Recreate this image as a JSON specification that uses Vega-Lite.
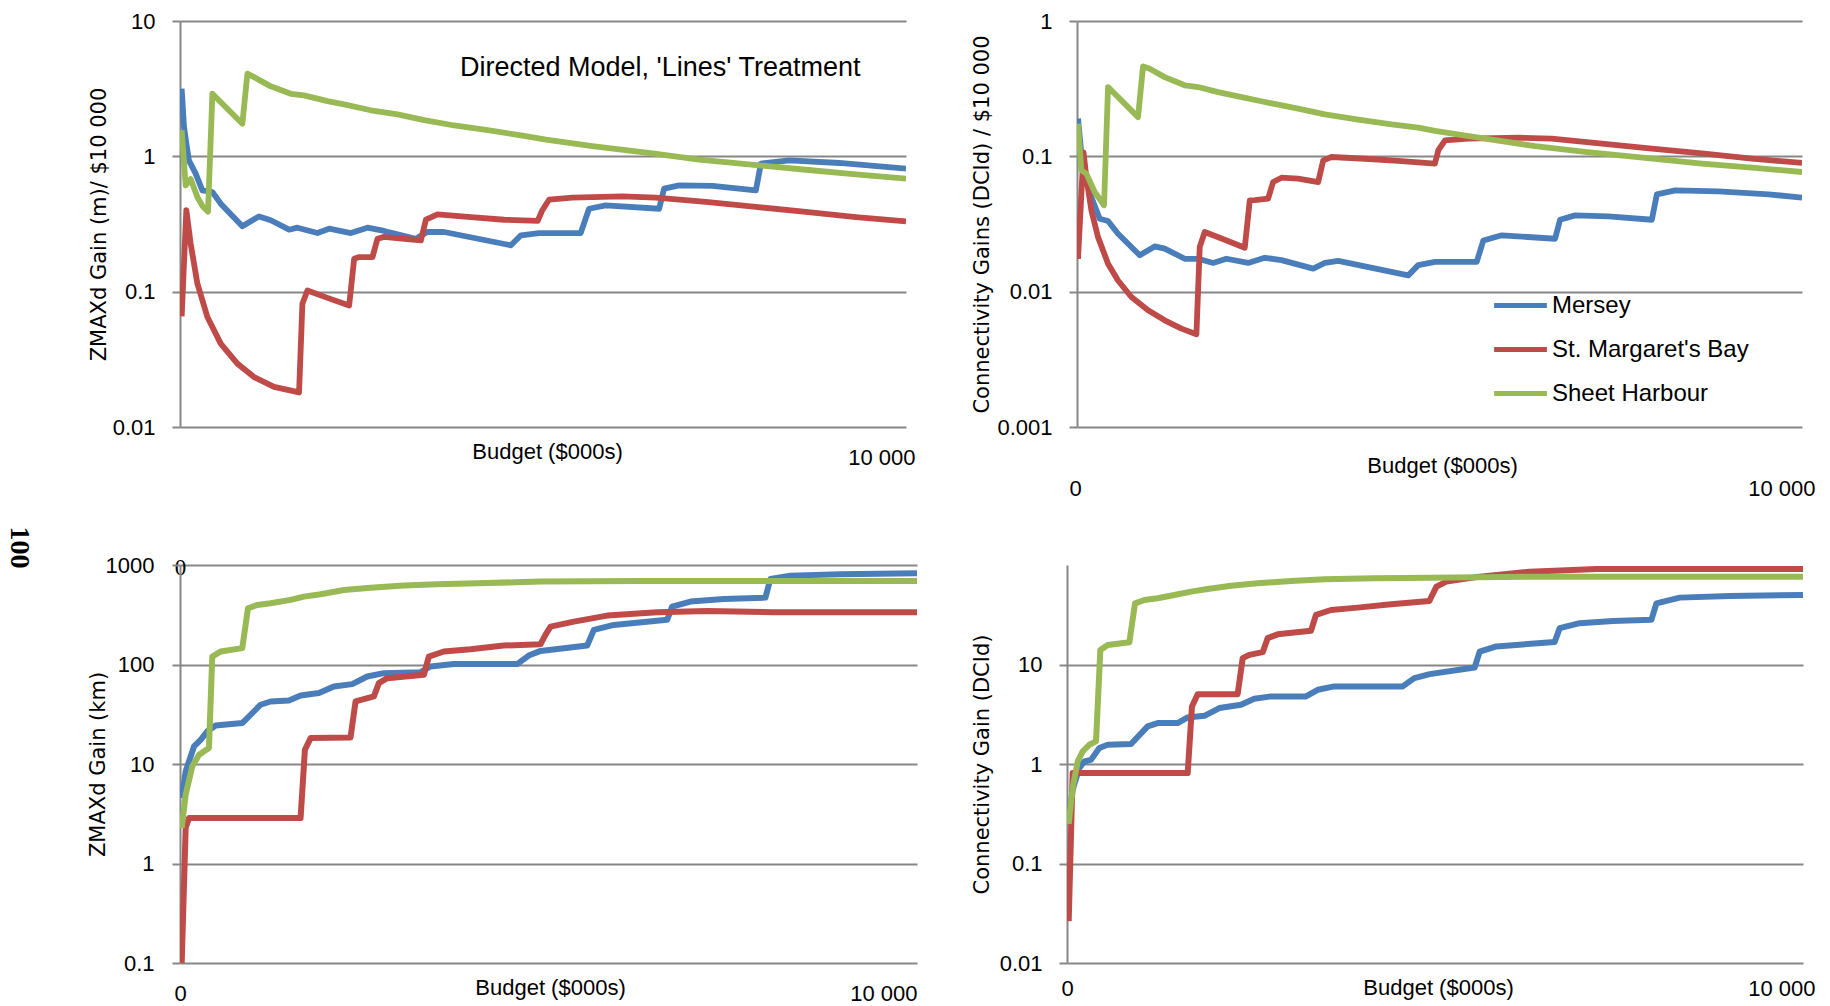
{
  "$schema": "https://vega.github.io/schema/vega-lite/v6.json",
  "autosize": {"type": "none"},
  "padding": {"left": 180, "top": 21, "right": 1650, "bottom": 985},
  "background": "white",
  "bounds": "flush",
  "spacing": 544,
  "resolve": {"scale": {"x": "independent", "y": "independent"}, "legend": {"color": "independent"}},
  "config": {
    "view": {"stroke": null},
    "axis": {
      "gridColor": "#878787", "gridWidth": 2, "gridOpacity": 1,
      "domainColor": "#878787", "domainWidth": 2,
      "tickColor": "#878787", "tickWidth": 2,
      "labelColor": "#000000", "titleColor": "#000000",
      "labelFont": "Liberation Sans", "labelFontSize": 22,
      "titleFont": "Liberation Sans", "titleFontWeight": "normal",
      "labelFlush": false, "labelOverlap": false
    }
  },
  "datasets": {
    "tl": [
      {"series":"Mersey","budget":23,"value":3.16},{"series":"Mersey","budget":55,"value":1.65},{"series":"Mersey","budget":101,"value":1.11},{"series":"Mersey","budget":124,"value":0.93},{"series":"Mersey","budget":216,"value":0.745},{"series":"Mersey","budget":308,"value":0.56},{"series":"Mersey","budget":446,"value":0.545},{"series":"Mersey","budget":561,"value":0.447},{"series":"Mersey","budget":859,"value":0.304},{"series":"Mersey","budget":1089,"value":0.36},{"series":"Mersey","budget":1250,"value":0.337},{"series":"Mersey","budget":1503,"value":0.287},{"series":"Mersey","budget":1617,"value":0.297},{"series":"Mersey","budget":1893,"value":0.271},{"series":"Mersey","budget":2054,"value":0.292},{"series":"Mersey","budget":2353,"value":0.271},{"series":"Mersey","budget":2582,"value":0.297},{"series":"Mersey","budget":2812,"value":0.281},{"series":"Mersey","budget":3249,"value":0.246},{"series":"Mersey","budget":3410,"value":0.277},{"series":"Mersey","budget":3639,"value":0.276},{"series":"Mersey","budget":4558,"value":0.22},{"series":"Mersey","budget":4696,"value":0.261},{"series":"Mersey","budget":4945,"value":0.271},{"series":"Mersey","budget":5519,"value":0.271},{"series":"Mersey","budget":5634,"value":0.41},{"series":"Mersey","budget":5864,"value":0.434},{"series":"Mersey","budget":6599,"value":0.41},{"series":"Mersey","budget":6668,"value":0.577},{"series":"Mersey","budget":6875,"value":0.61},{"series":"Mersey","budget":7335,"value":0.604},{"series":"Mersey","budget":7932,"value":0.56},{"series":"Mersey","budget":8001,"value":0.883},{"series":"Mersey","budget":8391,"value":0.934},{"series":"Mersey","budget":9081,"value":0.893},{"series":"Mersey","budget":10000,"value":0.811},
      {"series":"St. Margaret's Bay","budget":23,"value":0.0658},{"series":"St. Margaret's Bay","budget":87,"value":0.4},{"series":"St. Margaret's Bay","budget":147,"value":0.226},{"series":"St. Margaret's Bay","budget":239,"value":0.115},{"series":"St. Margaret's Bay","budget":377,"value":0.065},{"series":"St. Margaret's Bay","budget":561,"value":0.0413},{"series":"St. Margaret's Bay","budget":790,"value":0.0294},{"series":"St. Margaret's Bay","budget":1020,"value":0.0234},{"series":"St. Margaret's Bay","budget":1296,"value":0.0198},{"series":"St. Margaret's Bay","budget":1640,"value":0.018},{"series":"St. Margaret's Bay","budget":1686,"value":0.0815},{"series":"St. Margaret's Bay","budget":1755,"value":0.102},{"series":"St. Margaret's Bay","budget":2031,"value":0.09},{"series":"St. Margaret's Bay","budget":2330,"value":0.079},{"series":"St. Margaret's Bay","budget":2399,"value":0.175},{"series":"St. Margaret's Bay","budget":2468,"value":0.18},{"series":"St. Margaret's Bay","budget":2651,"value":0.18},{"series":"St. Margaret's Bay","budget":2720,"value":0.246},{"series":"St. Margaret's Bay","budget":2812,"value":0.254},{"series":"St. Margaret's Bay","budget":3088,"value":0.246},{"series":"St. Margaret's Bay","budget":3318,"value":0.239},{"series":"St. Margaret's Bay","budget":3387,"value":0.34},{"series":"St. Margaret's Bay","budget":3547,"value":0.373},{"series":"St. Margaret's Bay","budget":4007,"value":0.356},{"series":"St. Margaret's Bay","budget":4466,"value":0.34},{"series":"St. Margaret's Bay","budget":4926,"value":0.333},{"series":"St. Margaret's Bay","budget":4991,"value":0.4},{"series":"St. Margaret's Bay","budget":5083,"value":0.478},{"series":"St. Margaret's Bay","budget":5405,"value":0.495},{"series":"St. Margaret's Bay","budget":6094,"value":0.506},{"series":"St. Margaret's Bay","budget":6553,"value":0.495},{"series":"St. Margaret's Bay","budget":7243,"value":0.46},{"series":"St. Margaret's Bay","budget":7932,"value":0.423},{"series":"St. Margaret's Bay","budget":8621,"value":0.388},{"series":"St. Margaret's Bay","budget":9310,"value":0.356},{"series":"St. Margaret's Bay","budget":10000,"value":0.331},
      {"series":"Sheet Harbour","budget":23,"value":1.56},{"series":"Sheet Harbour","budget":78,"value":0.61},{"series":"Sheet Harbour","budget":147,"value":0.68},{"series":"Sheet Harbour","budget":239,"value":0.5},{"series":"Sheet Harbour","budget":308,"value":0.43},{"series":"Sheet Harbour","budget":386,"value":0.39},{"series":"Sheet Harbour","budget":446,"value":2.9},{"series":"Sheet Harbour","budget":859,"value":1.74},{"series":"Sheet Harbour","budget":928,"value":4.08},{"series":"Sheet Harbour","budget":1020,"value":3.85},{"series":"Sheet Harbour","budget":1250,"value":3.29},{"series":"Sheet Harbour","budget":1526,"value":2.9},{"series":"Sheet Harbour","budget":1709,"value":2.82},{"series":"Sheet Harbour","budget":2031,"value":2.56},{"series":"Sheet Harbour","budget":2261,"value":2.42},{"series":"Sheet Harbour","budget":2628,"value":2.19},{"series":"Sheet Harbour","budget":2996,"value":2.04},{"series":"Sheet Harbour","budget":3364,"value":1.85},{"series":"Sheet Harbour","budget":3777,"value":1.69},{"series":"Sheet Harbour","budget":4237,"value":1.56},{"series":"Sheet Harbour","budget":4696,"value":1.43},{"series":"Sheet Harbour","budget":5041,"value":1.33},{"series":"Sheet Harbour","budget":5680,"value":1.19},{"series":"Sheet Harbour","budget":6507,"value":1.05},{"series":"Sheet Harbour","budget":7151,"value":0.945},{"series":"Sheet Harbour","budget":7978,"value":0.857},{"series":"Sheet Harbour","budget":8621,"value":0.796},{"series":"Sheet Harbour","budget":9310,"value":0.736},{"series":"Sheet Harbour","budget":10000,"value":0.684}
    ],
    "tr": [
      {"series":"Mersey","budget":14,"value":0.19},{"series":"Mersey","budget":60,"value":0.105},{"series":"Mersey","budget":106,"value":0.0704},{"series":"Mersey","budget":198,"value":0.0501},{"series":"Mersey","budget":313,"value":0.0346},{"series":"Mersey","budget":428,"value":0.0333},{"series":"Mersey","budget":566,"value":0.0268},{"series":"Mersey","budget":865,"value":0.0186},{"series":"Mersey","budget":1072,"value":0.0216},{"series":"Mersey","budget":1210,"value":0.0208},{"series":"Mersey","budget":1486,"value":0.0175},{"series":"Mersey","budget":1670,"value":0.0175},{"series":"Mersey","budget":1877,"value":0.0163},{"series":"Mersey","budget":2061,"value":0.0175},{"series":"Mersey","budget":2360,"value":0.0163},{"series":"Mersey","budget":2590,"value":0.0178},{"series":"Mersey","budget":2820,"value":0.0171},{"series":"Mersey","budget":3258,"value":0.0148},{"series":"Mersey","budget":3419,"value":0.0163},{"series":"Mersey","budget":3603,"value":0.0169},{"series":"Mersey","budget":4569,"value":0.0132},{"series":"Mersey","budget":4707,"value":0.0157},{"series":"Mersey","budget":4938,"value":0.0166},{"series":"Mersey","budget":5513,"value":0.0166},{"series":"Mersey","budget":5605,"value":0.0239},{"series":"Mersey","budget":5858,"value":0.0261},{"series":"Mersey","budget":6594,"value":0.0246},{"series":"Mersey","budget":6663,"value":0.034},{"series":"Mersey","budget":6870,"value":0.0366},{"series":"Mersey","budget":7331,"value":0.036},{"series":"Mersey","budget":7929,"value":0.034},{"series":"Mersey","budget":7998,"value":0.0524},{"series":"Mersey","budget":8251,"value":0.0561},{"series":"Mersey","budget":8849,"value":0.0551},{"series":"Mersey","budget":9539,"value":0.0524},{"series":"Mersey","budget":10000,"value":0.0495},
      {"series":"St. Margaret's Bay","budget":14,"value":0.0175},{"series":"St. Margaret's Bay","budget":90,"value":0.107},{"series":"St. Margaret's Bay","budget":129,"value":0.07},{"series":"St. Margaret's Bay","budget":198,"value":0.04},{"series":"St. Margaret's Bay","budget":290,"value":0.0253},{"series":"St. Margaret's Bay","budget":428,"value":0.0161},{"series":"St. Margaret's Bay","budget":566,"value":0.0121},{"series":"St. Margaret's Bay","budget":750,"value":0.00914},{"series":"St. Margaret's Bay","budget":980,"value":0.00728},{"series":"St. Margaret's Bay","budget":1210,"value":0.00614},{"series":"St. Margaret's Bay","budget":1440,"value":0.00533},{"series":"St. Margaret's Bay","budget":1647,"value":0.00484},{"series":"St. Margaret's Bay","budget":1693,"value":0.0214},{"series":"St. Margaret's Bay","budget":1762,"value":0.0276},{"series":"St. Margaret's Bay","budget":2038,"value":0.0242},{"series":"St. Margaret's Bay","budget":2314,"value":0.0211},{"series":"St. Margaret's Bay","budget":2383,"value":0.0473},{"series":"St. Margaret's Bay","budget":2452,"value":0.0475},{"series":"St. Margaret's Bay","budget":2636,"value":0.0487},{"series":"St. Margaret's Bay","budget":2705,"value":0.0646},{"series":"St. Margaret's Bay","budget":2820,"value":0.0695},{"series":"St. Margaret's Bay","budget":3050,"value":0.0684},{"series":"St. Margaret's Bay","budget":3327,"value":0.0646},{"series":"St. Margaret's Bay","budget":3396,"value":0.0934},{"series":"St. Margaret's Bay","budget":3511,"value":0.0989},{"series":"St. Margaret's Bay","budget":3971,"value":0.096},{"series":"St. Margaret's Bay","budget":4431,"value":0.0924},{"series":"St. Margaret's Bay","budget":4937,"value":0.0883},{"series":"St. Margaret's Bay","budget":4984,"value":0.111},{"series":"St. Margaret's Bay","budget":5076,"value":0.131},{"series":"St. Margaret's Bay","budget":5398,"value":0.135},{"series":"St. Margaret's Bay","budget":6088,"value":0.1375},{"series":"St. Margaret's Bay","budget":6548,"value":0.135},{"series":"St. Margaret's Bay","budget":7239,"value":0.124},{"series":"St. Margaret's Bay","budget":7929,"value":0.114},{"series":"St. Margaret's Bay","budget":8619,"value":0.105},{"series":"St. Margaret's Bay","budget":9309,"value":0.096},{"series":"St. Margaret's Bay","budget":10000,"value":0.0893},
      {"series":"Sheet Harbour","budget":14,"value":0.174},{"series":"Sheet Harbour","budget":60,"value":0.0788},{"series":"Sheet Harbour","budget":129,"value":0.0745},{"series":"Sheet Harbour","budget":244,"value":0.0545},{"series":"Sheet Harbour","budget":373,"value":0.0435},{"series":"Sheet Harbour","budget":428,"value":0.325},{"series":"Sheet Harbour","budget":842,"value":0.195},{"series":"Sheet Harbour","budget":911,"value":0.462},{"series":"Sheet Harbour","budget":1003,"value":0.444},{"series":"Sheet Harbour","budget":1210,"value":0.385},{"series":"Sheet Harbour","budget":1486,"value":0.335},{"series":"Sheet Harbour","budget":1670,"value":0.325},{"series":"Sheet Harbour","budget":1946,"value":0.298},{"series":"Sheet Harbour","budget":2222,"value":0.277},{"series":"Sheet Harbour","budget":2590,"value":0.252},{"series":"Sheet Harbour","budget":3050,"value":0.225},{"series":"Sheet Harbour","budget":3419,"value":0.204},{"series":"Sheet Harbour","budget":3879,"value":0.187},{"series":"Sheet Harbour","budget":4339,"value":0.172},{"series":"Sheet Harbour","budget":4707,"value":0.163},{"series":"Sheet Harbour","budget":4938,"value":0.154},{"series":"Sheet Harbour","budget":5628,"value":0.135},{"series":"Sheet Harbour","budget":6318,"value":0.119},{"series":"Sheet Harbour","budget":7008,"value":0.108},{"series":"Sheet Harbour","budget":7699,"value":0.0989},{"series":"Sheet Harbour","budget":8619,"value":0.0883},{"series":"Sheet Harbour","budget":9309,"value":0.0825},{"series":"Sheet Harbour","budget":10000,"value":0.0766}
    ],
    "bl": [
      {"series":"Mersey","budget":23,"value":4.56},{"series":"Mersey","budget":77,"value":8.44},{"series":"Mersey","budget":190,"value":15},{"series":"Mersey","budget":280,"value":17.5},{"series":"Mersey","budget":371,"value":21.3},{"series":"Mersey","budget":484,"value":24.4},{"series":"Mersey","budget":845,"value":25.8},{"series":"Mersey","budget":1094,"value":39.4},{"series":"Mersey","budget":1229,"value":42.5},{"series":"Mersey","budget":1478,"value":43.5},{"series":"Mersey","budget":1636,"value":48.9},{"series":"Mersey","budget":1885,"value":51.6},{"series":"Mersey","budget":2088,"value":60.1},{"series":"Mersey","budget":2337,"value":63.5},{"series":"Mersey","budget":2540,"value":75.8},{"series":"Mersey","budget":2766,"value":81.9},{"series":"Mersey","budget":3263,"value":83.8},{"series":"Mersey","budget":3399,"value":95.5},{"series":"Mersey","budget":3715,"value":101},{"series":"Mersey","budget":4574,"value":101},{"series":"Mersey","budget":4732,"value":123},{"series":"Mersey","budget":4892,"value":137},{"series":"Mersey","budget":5525,"value":155},{"series":"Mersey","budget":5615,"value":223},{"series":"Mersey","budget":5886,"value":250},{"series":"Mersey","budget":6610,"value":281},{"series":"Mersey","budget":6677,"value":382},{"series":"Mersey","budget":6926,"value":429},{"series":"Mersey","budget":7378,"value":456},{"series":"Mersey","budget":7943,"value":470},{"series":"Mersey","budget":8011,"value":724},{"series":"Mersey","budget":8282,"value":782},{"series":"Mersey","budget":8960,"value":806},{"series":"Mersey","budget":10000,"value":825},
      {"series":"St. Margaret's Bay","budget":23,"value":0.1},{"series":"St. Margaret's Bay","budget":77,"value":2.28},{"series":"St. Margaret's Bay","budget":122,"value":2.87},{"series":"St. Margaret's Bay","budget":1636,"value":2.87},{"series":"St. Margaret's Bay","budget":1695,"value":13.9},{"series":"St. Margaret's Bay","budget":1772,"value":18.2},{"series":"St. Margaret's Bay","budget":2314,"value":18.5},{"series":"St. Margaret's Bay","budget":2382,"value":42.5},{"series":"St. Margaret's Bay","budget":2631,"value":47.8},{"series":"St. Margaret's Bay","budget":2698,"value":65},{"series":"St. Margaret's Bay","budget":2811,"value":72.9},{"series":"St. Margaret's Bay","budget":3309,"value":78.7},{"series":"St. Margaret's Bay","budget":3376,"value":120},{"series":"St. Margaret's Bay","budget":3580,"value":135},{"series":"St. Margaret's Bay","budget":3941,"value":142},{"series":"St. Margaret's Bay","budget":4393,"value":155},{"series":"St. Margaret's Bay","budget":4892,"value":160},{"series":"St. Margaret's Bay","budget":4960,"value":200},{"series":"St. Margaret's Bay","budget":5028,"value":240},{"series":"St. Margaret's Bay","budget":5344,"value":270},{"series":"St. Margaret's Bay","budget":5796,"value":310},{"series":"St. Margaret's Bay","budget":6474,"value":335},{"series":"St. Margaret's Bay","budget":7152,"value":345},{"series":"St. Margaret's Bay","budget":8056,"value":335},{"series":"St. Margaret's Bay","budget":10000,"value":335},
      {"series":"Sheet Harbour","budget":23,"value":2.28},{"series":"Sheet Harbour","budget":77,"value":4.92},{"series":"Sheet Harbour","budget":167,"value":9.48},{"series":"Sheet Harbour","budget":258,"value":12.4},{"series":"Sheet Harbour","budget":393,"value":14.5},{"series":"Sheet Harbour","budget":438,"value":120},{"series":"Sheet Harbour","budget":551,"value":135},{"series":"Sheet Harbour","budget":845,"value":146},{"series":"Sheet Harbour","budget":922,"value":367},{"series":"Sheet Harbour","budget":1049,"value":397},{"series":"Sheet Harbour","budget":1229,"value":412},{"series":"Sheet Harbour","budget":1501,"value":446},{"series":"Sheet Harbour","budget":1681,"value":481},{"series":"Sheet Harbour","budget":1907,"value":508},{"series":"Sheet Harbour","budget":2224,"value":561},{"series":"Sheet Harbour","budget":2585,"value":592},{"series":"Sheet Harbour","budget":3037,"value":621},{"series":"Sheet Harbour","budget":3489,"value":640},{"series":"Sheet Harbour","budget":4167,"value":660},{"series":"Sheet Harbour","budget":4892,"value":681},{"series":"Sheet Harbour","budget":6248,"value":691},{"series":"Sheet Harbour","budget":8056,"value":692},{"series":"Sheet Harbour","budget":10000,"value":692}
    ],
    "br": [
      {"series":"Mersey","budget":23,"value":0.287},{"series":"Mersey","budget":77,"value":0.552},{"series":"Mersey","budget":168,"value":0.912},{"series":"Mersey","budget":235,"value":1.06},{"series":"Mersey","budget":326,"value":1.1},{"series":"Mersey","budget":439,"value":1.45},{"series":"Mersey","budget":553,"value":1.56},{"series":"Mersey","budget":870,"value":1.59},{"series":"Mersey","budget":1096,"value":2.39},{"series":"Mersey","budget":1232,"value":2.58},{"series":"Mersey","budget":1504,"value":2.58},{"series":"Mersey","budget":1640,"value":2.94},{"series":"Mersey","budget":1866,"value":3.05},{"series":"Mersey","budget":2070,"value":3.65},{"series":"Mersey","budget":2364,"value":3.94},{"series":"Mersey","budget":2545,"value":4.53},{"series":"Mersey","budget":2772,"value":4.78},{"series":"Mersey","budget":3247,"value":4.78},{"series":"Mersey","budget":3406,"value":5.57},{"series":"Mersey","budget":3632,"value":6.02},{"series":"Mersey","budget":4561,"value":6.02},{"series":"Mersey","budget":4719,"value":7.29},{"series":"Mersey","budget":4928,"value":8},{"series":"Mersey","budget":5539,"value":9.33},{"series":"Mersey","budget":5607,"value":13.5},{"series":"Mersey","budget":5834,"value":15.2},{"series":"Mersey","budget":6626,"value":16.8},{"series":"Mersey","budget":6694,"value":23.2},{"series":"Mersey","budget":6966,"value":26},{"series":"Mersey","budget":7419,"value":27.4},{"series":"Mersey","budget":7940,"value":28.1},{"series":"Mersey","budget":8008,"value":41.2},{"series":"Mersey","budget":8325,"value":47},{"series":"Mersey","budget":9004,"value":48.9},{"series":"Mersey","budget":10000,"value":50},
      {"series":"St. Margaret's Bay","budget":23,"value":0.0264},{"series":"St. Margaret's Bay","budget":77,"value":0.813},{"series":"St. Margaret's Bay","budget":1640,"value":0.813},{"series":"St. Margaret's Bay","budget":1698,"value":3.79},{"series":"St. Margaret's Bay","budget":1775,"value":5.03},{"series":"St. Margaret's Bay","budget":2319,"value":5.03},{"series":"St. Margaret's Bay","budget":2387,"value":11.6},{"series":"St. Margaret's Bay","budget":2477,"value":12.5},{"series":"St. Margaret's Bay","budget":2659,"value":13.3},{"series":"St. Margaret's Bay","budget":2726,"value":18.4},{"series":"St. Margaret's Bay","budget":2862,"value":20.1},{"series":"St. Margaret's Bay","budget":3315,"value":21.8},{"series":"St. Margaret's Bay","budget":3383,"value":31.5},{"series":"St. Margaret's Bay","budget":3587,"value":35.3},{"series":"St. Margaret's Bay","budget":3949,"value":37.3},{"series":"St. Margaret's Bay","budget":4402,"value":40.3},{"series":"St. Margaret's Bay","budget":4923,"value":43.5},{"series":"St. Margaret's Bay","budget":5019,"value":60.7},{"series":"St. Margaret's Bay","budget":5154,"value":68.1},{"series":"St. Margaret's Bay","budget":5607,"value":76.4},{"series":"St. Margaret's Bay","budget":6287,"value":85.7},{"series":"St. Margaret's Bay","budget":7193,"value":91.2},{"series":"St. Margaret's Bay","budget":10000,"value":91.2},
      {"series":"Sheet Harbour","budget":23,"value":0.25},{"series":"Sheet Harbour","budget":77,"value":0.574},{"series":"Sheet Harbour","budget":145,"value":1.06},{"series":"Sheet Harbour","budget":213,"value":1.34},{"series":"Sheet Harbour","budget":303,"value":1.56},{"series":"Sheet Harbour","budget":394,"value":1.69},{"series":"Sheet Harbour","budget":453,"value":14},{"series":"Sheet Harbour","budget":553,"value":15.7},{"series":"Sheet Harbour","budget":847,"value":16.7},{"series":"Sheet Harbour","budget":924,"value":41.2},{"series":"Sheet Harbour","budget":1051,"value":44.5},{"series":"Sheet Harbour","budget":1232,"value":46.3},{"series":"Sheet Harbour","budget":1458,"value":50},{"series":"Sheet Harbour","budget":1685,"value":54},{"series":"Sheet Harbour","budget":1911,"value":57.4},{"series":"Sheet Harbour","budget":2228,"value":62},{"series":"Sheet Harbour","budget":2591,"value":65.5},{"series":"Sheet Harbour","budget":3043,"value":69.1},{"series":"Sheet Harbour","budget":3496,"value":71.8},{"series":"Sheet Harbour","budget":4176,"value":73.5},{"series":"Sheet Harbour","budget":4928,"value":74.6},{"series":"Sheet Harbour","budget":6287,"value":76.4},{"series":"Sheet Harbour","budget":10000,"value":76.4}
    ]
  },
  "vconcat": [
    {
      "bounds": "flush",
      "spacing": 171,
      "resolve": {"scale": {"x": "independent", "y": "independent"}, "legend": {"color": "independent"}},
      "hconcat": [
        {
          "width": 726, "height": 406,
          "data": {"name": "tl"},
          "layer": [
            {
              "mark": {"type": "line", "strokeWidth": 5.8, "strokeJoin": "round", "clip": true},
              "encoding": {
                "x": {"field": "budget", "type": "quantitative", "scale": {"domain": [0, 10000], "nice": false},
                  "axis": {"orient": "bottom", "values": [10000], "labelExpr": "'10 000'", "grid": false, "domain": false, "ticks": false, "tickSize": 0,
                    "labelAlign": "right", "labelBaseline": "middle", "labelPadding": 30, "labelOffset": 9,
                    "title": "Budget ($000s)", "titleFontSize": 22, "titleX": 367, "titleY": 24, "titleBaseline": "middle"}},
                "y": {"field": "value", "type": "quantitative", "scale": {"type": "log", "domain": [0.01, 10], "nice": false},
                  "axis": {"values": [0.01, 0.1, 1, 10], "labelExpr": "'' + datum.value", "grid": true, "tickSize": 8, "labelPadding": 17, "labelBaseline": "middle",
                    "title": "ZMAXd Gain (m)/ $10 000", "titleFont": "DejaVu Sans", "titleFontSize": 21, "titleX": -81, "titleBaseline": "middle"}},
                "color": {"field": "series", "type": "nominal", "legend": null,
                  "scale": {"domain": ["Mersey", "St. Margaret's Bay", "Sheet Harbour"], "range": ["#4A7EBB", "#BE4B48", "#98B954"]}}
              }
            },
            {
              "mark": {"type": "rule", "opacity": 0},
              "encoding": {
                "x": {"field": "budget", "type": "quantitative",
                  "axis": {"orient": "top", "labels": false, "grid": false, "domain": false, "ticks": false,
                    "title": "Directed Model, 'Lines' Treatment", "titleFontSize": 27, "titleX": 680, "titleY": 54,
                    "titleAlign": "right", "titleBaseline": "alphabetic"}}
              }
            }
          ]
        },
        {
          "width": 725, "height": 406,
          "data": {"name": "tr"},
          "mark": {"type": "line", "strokeWidth": 5.8, "strokeJoin": "round", "clip": true},
          "encoding": {
            "x": {"field": "budget", "type": "quantitative", "scale": {"domain": [0, 10000], "nice": false},
              "axis": {"values": [0, 10000], "labelExpr": "datum.value == 0 ? '0' : '10 000'", "grid": false, "domain": false, "ticks": false, "tickSize": 0,
                "labelAlign": {"condition": {"test": "datum.value == 0", "value": "center"}, "value": "right"},
                "labelOffset": {"condition": {"test": "datum.value == 0", "value": -2}, "value": 13},
                "labelBaseline": "middle", "labelPadding": 61,
                "title": "Budget ($000s)", "titleFontSize": 22, "titleX": 365, "titleY": 38, "titleBaseline": "middle"}},
            "y": {"field": "value", "type": "quantitative", "scale": {"type": "log", "domain": [0.001, 1], "nice": false},
              "axis": {"values": [0.001, 0.01, 0.1, 1], "labelExpr": "'' + datum.value", "grid": true, "tickSize": 8, "labelPadding": 17, "labelBaseline": "middle",
                "title": "Connectivity Gains (DCId) / $10 000", "titleFont": "DejaVu Sans", "titleFontSize": 21, "titleX": -95, "titleBaseline": "middle"}},
            "color": {"field": "series", "type": "nominal",
              "scale": {"domain": ["Mersey", "St. Margaret's Bay", "Sheet Harbour"], "range": ["#4A7EBB", "#BE4B48", "#98B954"]},
              "legend": {"orient": "none", "legendX": 429, "legendY": 270, "title": null, "padding": 0,
                "symbolType": "M-2.2,0H2.2", "symbolSize": 576, "symbolStrokeWidth": 5,
                "labelFont": "Liberation Sans", "labelFontSize": 24, "labelColor": "#000000", "labelOffset": 17, "labelLimit": 0, "rowPadding": 17}}
          }
        }
      ]
    },
    {
      "bounds": "flush",
      "spacing": 150,
      "resolve": {"scale": {"x": "independent", "y": "independent"}, "legend": {"color": "independent"}},
      "hconcat": [
        {
          "width": 737, "height": 398,
          "data": {"name": "bl"},
          "layer": [
            {
              "mark": {"type": "line", "strokeWidth": 6, "strokeJoin": "round", "clip": true},
              "encoding": {
                "x": {"field": "budget", "type": "quantitative", "scale": {"domain": [0, 10000], "nice": false},
                  "axis": {"orient": "bottom", "values": [0, 10000], "labelExpr": "datum.value == 0 ? '0' : '10 000'", "grid": false, "domain": false, "ticks": false, "tickSize": 0,
                    "labelAlign": {"condition": {"test": "datum.value == 0", "value": "center"}, "value": "right"},
                    "labelBaseline": "middle", "labelPadding": 30,
                    "title": "Budget ($000s)", "titleFontSize": 22, "titleX": 370, "titleY": 24, "titleBaseline": "middle"}},
                "y": {"field": "value", "type": "quantitative", "scale": {"type": "log", "domain": [0.1, 1000], "nice": false},
                  "axis": {"values": [0.1, 1, 10, 100, 1000], "labelExpr": "'' + datum.value", "grid": true, "tickSize": 8, "labelPadding": 18, "labelBaseline": "middle",
                    "title": "ZMAXd Gain (km)", "titleFont": "DejaVu Sans", "titleFontSize": 21, "titleX": -81.5, "titleBaseline": "middle"}},
                "color": {"field": "series", "type": "nominal", "legend": null,
                  "scale": {"domain": ["Mersey", "St. Margaret's Bay", "Sheet Harbour"], "range": ["#4A7EBB", "#BE4B48", "#98B954"]}}
              }
            },
            {
              "mark": {"type": "rule", "opacity": 0},
              "encoding": {
                "x": {"field": "budget", "type": "quantitative",
                  "axis": {"orient": "top", "values": [0], "labelExpr": "'0'", "grid": false, "domain": false, "ticks": false, "tickSize": 0,
                    "labelFont": "Liberation Serif", "labelFontSize": 23, "labelAlign": "center", "labelBaseline": "middle", "labelPadding": -2,
                    "title": "100", "titleFont": "Liberation Serif", "titleFontWeight": "bold", "titleFontSize": 28, "titleAngle": 90,
                    "titleX": -162, "titleY": -18, "titleBaseline": "middle", "titleAlign": "center"}}
              }
            }
          ]
        },
        {
          "width": 736, "height": 398,
          "data": {"name": "br"},
          "mark": {"type": "line", "strokeWidth": 6, "strokeJoin": "round", "clip": true},
          "encoding": {
            "x": {"field": "budget", "type": "quantitative", "scale": {"domain": [0, 10000], "nice": false},
              "axis": {"values": [0, 10000], "labelExpr": "datum.value == 0 ? '0' : '10 000'", "grid": false, "domain": false, "ticks": false, "tickSize": 0,
                "labelAlign": {"condition": {"test": "datum.value == 0", "value": "center"}, "value": "right"},
                "labelOffset": {"condition": {"test": "datum.value == 0", "value": 0}, "value": 12},
                "labelBaseline": "middle", "labelPadding": 25,
                "title": "Budget ($000s)", "titleFontSize": 22, "titleX": 371, "titleY": 24, "titleBaseline": "middle"}},
            "y": {"field": "value", "type": "quantitative", "scale": {"type": "log", "domain": [0.01, 100], "nice": false},
              "axis": {"values": [0.01, 0.1, 1, 10], "labelExpr": "'' + datum.value", "grid": true, "tickSize": 8, "labelPadding": 17, "labelBaseline": "middle",
                "title": "Connectivity Gain (DCId)", "titleFont": "DejaVu Sans", "titleFontSize": 21, "titleX": -84.5, "titleBaseline": "middle"}},
            "color": {"field": "series", "type": "nominal", "legend": null,
              "scale": {"domain": ["Mersey", "St. Margaret's Bay", "Sheet Harbour"], "range": ["#4A7EBB", "#BE4B48", "#98B954"]}}
          }
        }
      ]
    }
  ]
}
